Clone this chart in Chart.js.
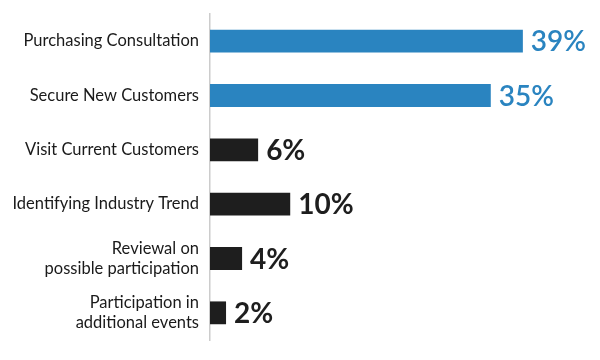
<!DOCTYPE html>
<html>
<head>
<meta charset="utf-8">
<script src="https://cdn.jsdelivr.net/npm/chart.js@4/dist/chart.umd.min.js"></script>
<style>
  html, body { margin: 0; padding: 0; background: #fff; }
  #wrap { width: 600px; height: 360px; }
</style>
</head>
<body>
<div id="wrap"><canvas id="myChart"></canvas></div>
<script>
const categories = [
  "Purchasing Consultation",
  "Secure New Customers",
  "Visit Current Customers",
  "Identifying Industry Trend",
  ["Reviewal on", "possible participation"],
  ["Participation in", "additional events"]
];
const values = [39, 35, 6, 10, 4, 2];
const barColors = ["#2a84c0", "#2a84c0", "#1e1e1e", "#1e1e1e", "#1e1e1e", "#1e1e1e"];

// draws the "39%" style labels at the end of each bar
const valueLabels = {
  id: "valueLabels",
  afterDatasetsDraw(chart) {
    const ctx = chart.ctx;
    const meta = chart.getDatasetMeta(0);
    ctx.save();
    ctx.textBaseline = "middle";
    ctx.textAlign = "left";
    meta.data.forEach((bar, i) => {
      ctx.fillStyle = barColors[i];
      ctx.font = (i < 2 ? "600 " : "bold ") + "28px Lato";
      ctx.fillText(values[i] + "%", bar.x + 8, bar.y + 1);
    });
    ctx.restore();
  }
};

let chart = new Chart("myChart", {
  type: "bar",
  data: {
    labels: categories,
    datasets: [
      {
        data: values,
        backgroundColor: barColors,
        categoryPercentage: 1,
        barPercentage: 0.42
      }
    ]
  },
  options: {
    indexAxis: "y",
    responsive: true,
    maintainAspectRatio: false,
    animation: false,
    layout: { padding: { top: 14, bottom: 20, right: 29, left: 0 } },
    plugins: {
      legend: { display: false },
      tooltip: { enabled: false }
    },
    scales: {
      x: {
        display: false,
        min: 0,
        max: 45
      },
      y: {
        grid: { display: false },
        border: { display: true, color: "#cccccc", width: 1.5 },
        afterFit(scale) {
          scale.width = 210;
          scale.paddingTop = 0;
          scale.paddingBottom = 0;
        },
        ticks: {
          color: "#1a1a1a",
          padding: 3,
          font: { family: "Lato", size: 16.5 },
          crossAlign: "near"
        }
      }
    }
  },
  plugins: [valueLabels]
});
</script>
</body>
</html>
